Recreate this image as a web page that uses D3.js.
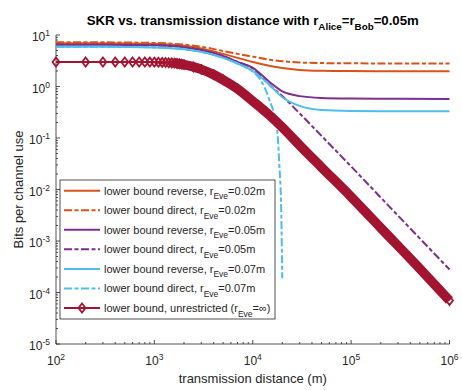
<!doctype html>
<html>
<head>
<meta charset="utf-8">
<title>SKR vs distance</title>
<script src="https://cdn.jsdelivr.net/npm/d3@7"></script>
<style>
body { margin: 0; background: #fff; }
text { font-family: "Liberation Sans", Arial, Helvetica, sans-serif; fill: #262626; }
</style>
</head>
<body>
<script>

// Data, distance in m, SKR in bits per channel use
var dist = [100, 300, 1000, 2000, 3000, 5000, 7000, 1e4, 1.5e4, 2e4, 3e4, 5e4, 1e5, 3e5, 1e6];
var revE02 = [6.9, 6.9, 6.7, 6.2, 5.5, 4.3, 3.6, 3.0, 2.5, 2.28, 2.1, 2.02, 1.99, 1.98, 1.98];
var dirE02 = [7.2, 7.2, 7.0, 6.5, 5.9, 4.9, 4.3, 3.8, 3.3, 3.1, 2.92, 2.85, 2.82, 2.8, 2.8];
var revE05 = [6.5, 6.5, 6.3, 5.8, 5.1, 3.9, 3.0, 2.3, 1.2, 0.8, 0.65, 0.6, 0.585, 0.578, 0.575];
var dirE05 = [6.5, 6.5, 6.3, 5.8, 5.1, 3.9, 3.0, 2.25, 1.05, 0.65, 0.3, 0.11, 0.028, 0.0031, 2.8e-4];
var revE07 = [5.9, 5.9, 5.75, 5.3, 4.7, 3.6, 2.8, 2.0, 1.05, 0.62, 0.42, 0.35, 0.335, 0.33, 0.33];

// direct, r_Eve = 0.07 m, drops to zero near 2e4 m
var distE07dir = [100, 300, 1000, 2000, 3000, 5000, 7000, 1e4, 1.2e4, 1.47e4, 1.77e4, 1.86e4, 1.95e4, 1.995e4];
var dirE07 = [5.9, 5.9, 5.75, 5.3, 4.7, 3.6, 2.8, 1.95, 1.35, 0.56, 0.144, 0.032, 0.0034, 1.9e-4];

// unrestricted (markers every 100 m)
var distUnr = [100, 200, 300, 400, 500, 600, 700, 800, 900, 1000, 1100, 1200, 1300, 1400, 1500,
  1600, 1700, 1800, 1900, 2000, 2500, 3000, 4000, 5000, 7000, 1e4, 1.5e4, 2e4, 3e4, 5e4, 1e5, 2e5, 5e5, 1e6];
var unr = [3.0, 3.0, 3.0, 3.0, 3.0, 3.0, 3.0, 3.0, 2.98, 2.97, 2.96, 2.94, 2.92, 2.9, 2.87,
  2.84, 2.8, 2.76, 2.71, 2.66, 2.4, 2.15, 1.7, 1.35, 0.9, 0.52, 0.27, 0.16, 0.072, 0.027, 0.0072, 0.0018, 2.9e-4, 7e-5];

var xTicks = [1e2, 1e3, 1e4, 1e5, 1e6];
var xExp = ["2", "3", "4", "5", "6"];
var yTicks = [1e-5, 1e-4, 1e-3, 1e-2, 1e-1, 1e0, 1e1];
var yExp = ["-5", "-4", "-3", "-2", "-1", "0", "1"];

var legendText = [
  ["lower bound reverse, r", "Eve", "=0.02m"],
  ["lower bound direct, r", "Eve", "=0.02m"],
  ["lower bound reverse, r", "Eve", "=0.05m"],
  ["lower bound direct, r", "Eve", "=0.05m"],
  ["lower bound reverse, r", "Eve", "=0.07m"],
  ["lower bound direct, r", "Eve", "=0.07m"],
  ["lower bound, unrestricted (r", "Eve", "=\u221E)"]
];

var orange = "#D95319", purple = "#7E2F8E", cyan = "#4DBEEE", darkred = "#A2142F";
var dashDot = "8,2.5,4,2.5";

var series = [
  {x: dist, y: revE02, color: orange, dash: null},
  {x: dist, y: dirE02, color: orange, dash: dashDot},
  {x: dist, y: revE05, color: purple, dash: null},
  {x: dist, y: dirE05, color: purple, dash: dashDot},
  {x: dist, y: revE07, color: cyan, dash: null},
  {x: distE07dir, y: dirE07, color: cyan, dash: dashDot}
];

// Graphics
var W = 462, H = 390;
var pLeft = 56, pRight = 449.5, pTop = 35, pBottom = 344;

var svg = d3.select("body").append("svg")
  .attr("width", W)
  .attr("height", H);

var xScale = d3.scaleLog().domain([1e2, 1e6]).range([pLeft, pRight]);
var yScale = d3.scaleLog().domain([1e-5, 1e1]).range([pBottom, pTop]);

var line = d3.line()
  .x(function(d) { return xScale(d[0]); })
  .y(function(d) { return yScale(d[1]); })
  .curve(d3.curveMonotoneX);

function pairs(xs, ys) {
  return xs.map(function(v, i) { return [v, ys[i]]; });
}

// Axes (ticks inward, no box)
var minorX = [], minorY = [];
for (var e = 2; e < 6; e++) for (var m = 2; m < 10; m++) minorX.push(m * Math.pow(10, e));
for (var e2 = -5; e2 < 1; e2++) for (var m2 = 2; m2 < 10; m2++) minorY.push(m2 * Math.pow(10, e2));

var gx = svg.append("g").attr("class", "axis x")
  .attr("transform", "translate(0," + pBottom + ")");
gx.selectAll("line.minor").data(minorX).enter().append("line")
  .attr("x1", function(d) { return xScale(d); }).attr("x2", function(d) { return xScale(d); })
  .attr("y1", 0).attr("y2", -2).attr("stroke", "#262626").attr("stroke-width", 0.8);
gx.selectAll("line.major").data(xTicks).enter().append("line")
  .attr("x1", function(d) { return xScale(d); }).attr("x2", function(d) { return xScale(d); })
  .attr("y1", 0).attr("y2", -4).attr("stroke", "#262626").attr("stroke-width", 0.8);
gx.append("line").attr("x1", pLeft).attr("x2", pRight).attr("y1", 0).attr("y2", 0)
  .attr("stroke", "#262626").attr("stroke-width", 0.8);

var xl = gx.selectAll("text").data(xTicks).enter().append("text")
  .attr("x", function(d) { return xScale(d); })
  .attr("y", 20.5)
  .attr("text-anchor", "middle")
  .attr("font-size", 12);
xl.append("tspan").text("10");
xl.append("tspan").attr("dy", -5).attr("font-size", 8.5).text(function(d, i) { return xExp[i]; });

var gy = svg.append("g").attr("class", "axis y")
  .attr("transform", "translate(" + pLeft + ",0)");
gy.selectAll("line.minor").data(minorY).enter().append("line")
  .attr("y1", function(d) { return yScale(d); }).attr("y2", function(d) { return yScale(d); })
  .attr("x1", 0).attr("x2", 2).attr("stroke", "#262626").attr("stroke-width", 0.8);
gy.selectAll("line.major").data(yTicks).enter().append("line")
  .attr("y1", function(d) { return yScale(d); }).attr("y2", function(d) { return yScale(d); })
  .attr("x1", 0).attr("x2", 4).attr("stroke", "#262626").attr("stroke-width", 0.8);
gy.append("line").attr("x1", 0).attr("x2", 0).attr("y1", pTop).attr("y2", pBottom)
  .attr("stroke", "#262626").attr("stroke-width", 0.8);

var yl = gy.selectAll("text").data(yTicks).enter().append("text")
  .attr("x", -6)
  .attr("y", function(d) { return yScale(d) + 6; })
  .attr("text-anchor", "end")
  .attr("font-size", 12);
yl.append("tspan").text("10");
yl.append("tspan").attr("dy", -5).attr("font-size", 8.5).text(function(d, i) { return yExp[i]; });

// Curves
var plot = svg.append("g");
series.forEach(function(s) {
  plot.append("path")
    .attr("d", line(pairs(s.x, s.y)))
    .attr("fill", "none")
    .attr("stroke", s.color)
    .attr("stroke-width", 2)
    .attr("stroke-dasharray", s.dash);
});

// unrestricted: markers merge into a thick band at larger distances
var unrPts = pairs(distUnr, unr);
plot.append("path")
  .attr("d", line(unrPts.filter(function(d) { return d[0] >= 1600; })))
  .attr("fill", "none")
  .attr("stroke", darkred)
  .attr("stroke-width", 9.5);
plot.append("path")
  .attr("d", line(unrPts))
  .attr("fill", "none")
  .attr("stroke", darkred)
  .attr("stroke-width", 2);

function diamond(cx, cy) {
  return "M" + cx + "," + (cy - 4.5) + "L" + (cx + 3.5) + "," + cy +
    "L" + cx + "," + (cy + 4.5) + "L" + (cx - 3.5) + "," + cy + "Z";
}
plot.append("path")
  .attr("d", unrPts.map(function(d) { return diamond(xScale(d[0]), yScale(d[1])); }).join(""))
  .attr("fill", "none")
  .attr("stroke", darkred)
  .attr("stroke-width", 1.8);

// Legend
var lg = svg.append("g").attr("transform", "translate(60,180)");
lg.append("rect")
  .attr("width", 215).attr("height", 139)
  .attr("fill", "#fff").attr("stroke", "#262626").attr("stroke-width", 0.8);

var legendStyle = series.map(function(s) { return {color: s.color, dash: s.dash}; });
legendStyle.push({color: darkred, dash: null});

legendText.forEach(function(t, i) {
  var yy = 10.7 + i * 19.55;
  lg.append("line")
    .attr("x1", 4).attr("x2", 40).attr("y1", yy).attr("y2", yy)
    .attr("stroke", legendStyle[i].color).attr("stroke-width", 2)
    .attr("stroke-dasharray", legendStyle[i].dash);
  if (i === 6) {
    lg.append("path").attr("d", diamond(22, yy))
      .attr("fill", "none").attr("stroke", darkred).attr("stroke-width", 1.8);
  }
  var tx = lg.append("text").attr("x", 44).attr("y", yy + 4).attr("font-size", 11);
  tx.append("tspan").text(t[0]);
  tx.append("tspan").attr("dy", 4.5).attr("font-size", 8.5).text(t[1]);
  tx.append("tspan").attr("dy", -4.5).text(t[2]);
});

// Titles
var title = svg.append("text")
  .attr("x", (pLeft + pRight) / 2).attr("y", 25)
  .attr("text-anchor", "middle")
  .attr("font-size", 13.2)
  .attr("font-weight", "bold")
  .style("fill", "#000");
title.append("tspan").text("SKR vs. transmission distance with r");
title.append("tspan").attr("dy", 4.5).attr("font-size", 9.8).text("Alice");
title.append("tspan").attr("dy", -4.5).text("=r");
title.append("tspan").attr("dy", 4.5).attr("font-size", 9.8).text("Bob");
title.append("tspan").attr("dy", -4.5).text("=0.05m");

svg.append("text")
  .attr("x", (pLeft + pRight) / 2).attr("y", 383)
  .attr("text-anchor", "middle")
  .attr("font-size", 13)
  .text("transmission distance (m)");

svg.append("text")
  .attr("transform", "translate(23," + ((pTop + pBottom) / 2) + ") rotate(-90)")
  .attr("text-anchor", "middle")
  .attr("font-size", 13)
  .text("Bits per channel use");

</script>
</body>
</html>
